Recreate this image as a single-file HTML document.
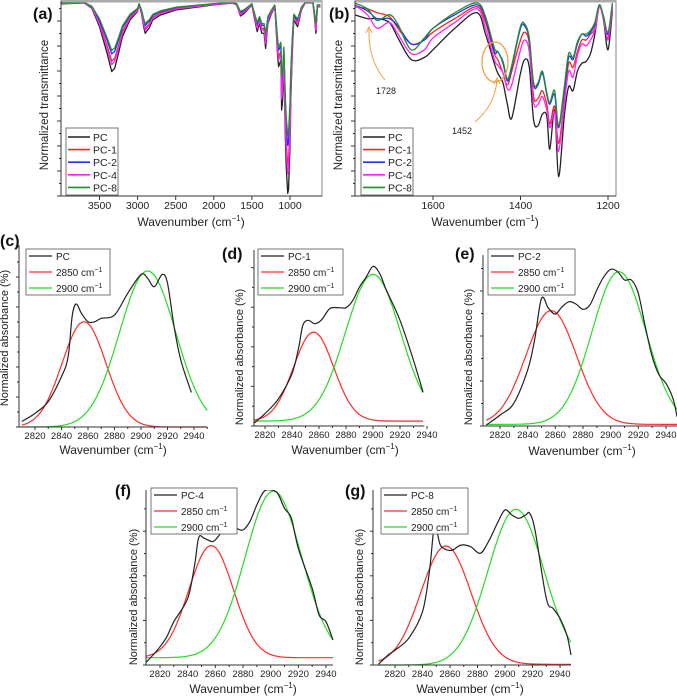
<!DOCTYPE html>
<html><head><meta charset="utf-8">
<style>
html,body{margin:0;padding:0;background:#fff;}
svg{display:block;font-family:"Liberation Sans",Arial,sans-serif;}
</style></head>
<body>
<svg id="fig" width="677" height="698" viewBox="0 0 677 698" xmlns="http://www.w3.org/2000/svg"></svg>
<script>
// ---------- Panel (a) data ----------
const aWavenumbers=[4000,3700,3600,3500,3400,3340,3300,3250,3200,3100,3000,2980,2950,2920,2900,2870,2850,2800,2700,2500,2000,1750,1730,1700,1650,1600,1500,1480,1430,1400,1370,1340,1320,1290,1250,1200,1160,1150,1120,1110,1100,1080,1060,1050,1030,1020,1000,990,970,950,900,850,800,700,680,660,640,600];
const aPC=[98.5,99,96.2,86.8,73.2,63.8,65.5,73.2,81.7,90.3,94.6,98,93.7,86.8,83.4,85.1,86,90.3,92.8,95.4,98,99,98.5,98,92.3,93.7,98,93.7,84.3,88.5,83.4,83.4,75.7,88.5,92.8,97.1,70.6,66.3,69.7,44.1,47.5,66.3,28.7,15.1,1.4,3.1,25.3,49.2,73.2,90.3,86.8,95.4,99,99,92,83.4,97.1,97.1];
const aPC1=[98.8,99.2,96.8,88.8,77.2,69.2,70.6,77.2,84.4,91.8,95.4,98.3,94.6,88.8,85.9,87.3,88.1,91.8,93.9,96.1,98.3,99.1,98.7,98.3,93.5,94.6,98.3,94.6,86.7,90.2,85.9,85.9,79.3,90.2,93.9,97.5,75,71.4,74.2,52.5,55.4,71.4,39.4,27.8,16.2,17.6,36.5,56.8,77.2,91.8,88.8,96.1,99.2,99.2,93.2,85.9,97.5,97.5];
const aPC2=[98.9,99.3,97.2,90.1,79.9,72.9,74.1,79.9,86.3,92.7,96,98.5,95.3,90.1,87.5,88.8,89.5,92.7,94.6,96.6,98.5,99.3,98.9,98.5,94.2,95.3,98.5,95.3,88.2,91.4,87.5,87.5,81.8,91.4,94.6,97.8,78,74.7,77.3,58.1,60.6,74.7,46.5,36.3,26,27.3,44,61.9,79.9,92.7,90.1,96.6,99.3,99.3,94,87.5,97.8,97.8];
const aPC4=[98.7,99.1,96.6,88.1,75.9,67.4,69,75.9,83.5,91.3,95.1,98.2,94.3,88.1,85.1,86.6,87.4,91.3,93.5,95.9,98.2,99.1,98.7,98.2,93.1,94.3,98.2,94.3,85.9,89.7,85.1,85.1,78.1,89.7,93.5,97.4,73.5,69.7,72.7,49.7,52.8,69.7,35.8,23.6,11.3,12.8,32.8,54.3,75.9,91.3,88.1,95.9,99.1,99.1,92.8,85.1,97.4,97.4];
const aPC8=[99,99.3,97.3,90.8,81.2,74.7,75.9,81.2,87.2,93.2,96.2,98.6,95.6,90.8,88.4,89.6,90.2,93.2,95,96.8,98.6,99.3,99,98.6,94.6,95.6,98.6,95.6,89,92,88.4,88.4,83,92,95,98,79.4,76.4,78.8,60.9,63.3,76.4,50.1,40.6,31,32.2,47.7,64.4,81.2,93.2,90.8,96.8,99.3,99.3,94.4,88.4,98,98];
const aTicks=[3500,3000,2500,2000,1500,1000];
// ---------- Panel (b) data ----------
const bWavenumbers=[1780,1750,1728,1700,1680,1650,1620,1600,1550,1500,1480,1460,1452,1440,1430,1420,1400,1390,1380,1370,1360,1350,1340,1333,1322,1313,1300,1290,1280,1270,1260,1250,1240,1230,1220,1210,1200,1190];
const bPC=[93,91,91,89,81,70,71,75,86,94,83,68,63,58,47,40,63,70,66,39,36,42,41,24,44,10,41,56,54,64,68,69,73,83,97,90,75,95];
const bPC1=[97,96,94,92,86,78,80,84,91,97,89,73,70,63,57,64,80,84,78,51,50,54,47,37,46,27,49,68,66,74,80,80,83,86,97,91,81,97];
const bPC2=[98,95,91,91,87,78,80,86,93,98,91,74,74,68,59,66,86,87,80,57,57,63,52,47,52,35,54,71,70,78,83,82,84,88,98,91,83,98];
const bPC4=[98,93,86,89,83,73,75,81,89,96,86,70,67,63,55,57,75,80,74,48,47,51,44,35,43,23,47,64,61,72,78,77,80,85,97,91,80,97];
const bPC8=[99,96,90,93,88,75,81,86,94,99,92,76,74,69,60,67,87,88,81,58,58,64,53,48,54,36,56,73,71,79,83,83,85,89,98,92,84,99];
const bTicks=[1600,1400,1200];
const seriesNames=["PC","PC-1","PC-2","PC-4","PC-8"];
// ---------- Deconvolution panels data ----------
const cWn=[2810,2820,2830,2840,2845,2848,2851,2855,2860,2865,2870,2880,2890,2900,2905,2910,2916,2920,2925,2930,2938];
const cAbs=[3,7.5,14,27.7,38.6,60.6,67.6,62.5,57.8,57.8,59.7,61.5,73.5,83.8,81.7,77.1,83.8,79,55.1,36.8,19];
const dWn=[2810,2820,2830,2840,2845,2848,2852,2857,2862,2868,2875,2880,2885,2890,2895,2900,2905,2910,2920,2930,2937];
const dAbs=[0.4,6.8,15,28.8,43.4,55.3,58.1,56.2,58.4,64.5,65,65,69,76.4,81.9,87.7,83.7,74.5,58.1,36.1,18.7];
const eWn=[2810,2820,2830,2840,2845,2850,2855,2860,2865,2870,2875,2880,2885,2890,2895,2900,2905,2910,2915,2920,2925,2930,2935,2940,2945,2948];
const eAbs=[0.5,6,12.5,30.8,47.3,70.1,64.7,61.5,65.6,68.3,67,64.1,66.5,74.7,82,86.1,84.8,80.2,80.2,72.9,54.6,38.1,28,23.4,15.2,5.1];
const fWn=[2808,2815,2820,2825,2830,2840,2845,2848,2852,2858,2862,2868,2875,2880,2885,2890,2895,2900,2905,2910,2915,2920,2930,2935,2940,2945];
const fAbs=[0,5.5,10,15.6,23.8,36.6,54.9,70,69.6,67.8,70.5,76,75.1,74.2,78.8,87.9,95.2,96.2,94.3,86.1,80.6,64.1,42.1,27.5,23.8,13.7];
const gWn=[2808,2815,2820,2830,2840,2845,2848,2850,2853,2858,2862,2868,2875,2882,2888,2895,2900,2905,2910,2915,2918,2922,2930,2935,2940,2945,2948];
const gAbs=[0.4,5.5,8.2,14.7,29.3,51.3,73.3,75.1,65.9,63.2,63.2,65.9,65,61.4,67.8,78.8,85.2,82.4,80.6,82.4,83.3,73.3,36.6,31.1,25.6,16.5,5.5];
// fit peak parameters [center, height above base, FWHM, base]
const fit2850=[[2857,57.8,39,0],[2856,48.9,35,2.7],[2857,62.5,43,0.9],[2857,61.6,38,4],[2857,65,43,0.4]];
const fit2900=[[2905,85.7,50,0],[2900,80.6,48,2.7],[2906,83.9,46,0.9],[2902,91.6,48,4],[2908,85.5,48,0]];
const smallTicks=[2820,2840,2860,2880,2900,2920,2940];
const sampleNames=["PC","PC-1","PC-2","PC-4","PC-8"];

const NS="http://www.w3.org/2000/svg";
const svg=document.getElementById('fig');
function mk(tag,attrs,parent,name,inter){
  const e=document.createElementNS(NS,tag);
  for(const k in attrs)e.setAttribute(k,attrs[k]);
  
  
  (parent||svg).appendChild(e);return e;
}
function txt(x,y,s,opt,name,parent){
  const o=Object.assign({x:x,y:y,'font-size':11,fill:'#222'},opt||{});
  const t=mk('text',o,parent,name,false);t.textContent=s;return t;
}
function ylab(x,y,s,name,fs){
  const t=mk('text',{x:0,y:0,'font-size':fs||11,fill:'#222','text-anchor':'middle',transform:`translate(${x},${y}) rotate(-90)`},svg,name,false);
  t.textContent=s;
}
function xlabel(x,y,name,fs){
  const t=mk('text',{x:x,y:y,'font-size':fs||12,fill:'#222','text-anchor':'middle'},svg,name,false);
  t.innerHTML='Wavenumber (cm<tspan font-size="8" dy="-5">−1</tspan><tspan dy="5">)</tspan>';
}
function smoothPath(P){
  let d='M'+P[0][0].toFixed(1)+','+P[0][1].toFixed(1);
  for(let i=0;i<P.length-1;i++){
    const p0=P[i-1]||P[i],p1=P[i],p2=P[i+1],p3=P[i+2]||P[i+1];
    const c1=[p1[0]+(p2[0]-p0[0])/6,p1[1]+(p2[1]-p0[1])/6];
    const c2=[p2[0]-(p3[0]-p1[0])/6,p2[1]-(p3[1]-p1[1])/6];
    d+=` C${c1[0].toFixed(1)},${c1[1].toFixed(1)} ${c2[0].toFixed(1)},${c2[1].toFixed(1)} ${p2[0].toFixed(1)},${p2[1].toFixed(1)}`;
  }
  return d;
}
const colors=["#222","#ff2020","#2030ff","#ff20ff","#1f8f2f"];

function bigPanel(p){
  const g=mk('g',{},svg,p.name,false);
  const X=w=>p.x0+(p.w0-w)*p.k;
  const Y=v=>1+(100-v)*1.95;
  const clipId=p.name+'-clip';
  const defs=mk('defs',{},g,'clip-defs',false);
  const cp=mk('clipPath',{id:clipId},defs,'clip-path',false);
  mk('rect',{x:p.l,y:1,width:p.r-p.l,height:195},cp,'clip-rect',false);
  const lines=mk('g',{'clip-path':`url(#${clipId})`},g,'series-group',false);
  p.series.forEach((s,i)=>{
    const P=p.wn.map((w,j)=>[X(w),Y(s[j])]);
    const pl=mk('path',{d:p.smooth?smoothPath(P):'M'+P.map(q=>q[0].toFixed(1)+','+q[1].toFixed(1)).join(' L'),fill:'none',stroke:colors[i],'stroke-width':1.3,'stroke-linejoin':'round'},lines,'series-line',false);
    
  });
  mk('rect',{x:p.l,y:1,width:p.r-p.l,height:195,fill:'none',stroke:'#888','stroke-width':1},g,'plot-frame',false);
  mk('line',{x1:p.l,y1:1,x2:p.r,y2:1,stroke:'#aaa','stroke-width':3},g,'top-border',false);
  mk('line',{x1:p.l,y1:196,x2:p.r,y2:196,stroke:'#333','stroke-width':1},g,'x-axis',false);
  mk('line',{x1:p.l,y1:1,x2:p.l,y2:196,stroke:'#333','stroke-width':1},g,'y-axis',false);
  p.ticks.forEach(t=>{
    mk('line',{x1:X(t),y1:196,x2:X(t),y2:200,stroke:'#333'},g,'x-tick',false);
    txt(X(t),209,String(t),{'text-anchor':'middle','font-size':10.5},'x-tick-label',g);
  });
  for(let y=196;y>3;y-=12.5){
    const major=Math.round((196-y)/12.5)%2===0;
    mk('line',{x1:p.l-(major?4:2),y1:y,x2:p.l,y2:y,stroke:'#333'},g,'y-tick',false);
  }
  const lg=mk('g',{},g,'legend',false);
  mk('rect',{x:p.lx,y:128,width:52,height:67,fill:'#fff',stroke:'#555','stroke-width':0.8},lg,'legend-box',false);
  seriesNames.forEach((n,i)=>{
    const yy=137+i*12.6;
    mk('line',{x1:p.lx+2,y1:yy,x2:p.lx+24,y2:yy,stroke:colors[i],'stroke-width':1.6},lg,'legend-swatch',false);
    txt(p.lx+27,yy+4,n,{'font-size':10.5},'legend-entry',lg);
  });
}
bigPanel({name:'panel-a',wn:aWavenumbers,series:[aPC,aPC1,aPC2,aPC4,aPC8],ticks:aTicks,x0:290,w0:1000,k:0.0762,l:61,r:322,lx:66,smooth:false});
bigPanel({name:'panel-b',wn:bWavenumbers,series:[bPC,bPC1,bPC2,bPC4,bPC8],ticks:bTicks,x0:433,w0:1600,k:0.4375,l:355,r:616,lx:361,smooth:true});
txt(33,19,'(a)',{'font-size':16,'font-weight':'bold',fill:'#111'},'panel-label-a');
txt(329,19,'(b)',{'font-size':16,'font-weight':'bold',fill:'#111'},'panel-label-b');
ylab(48,105,'Normalized transmittance','y-axis-title-a',11.5);
ylab(342,105,'Normalized transmittance','y-axis-title-b',11.5);
xlabel(191,226,'x-axis-title-a');
xlabel(485,226,'x-axis-title-b');
const ann=mk('g',{fill:'none',stroke:'#f5a040','stroke-width':1},svg,'annotations',false);
mk('path',{d:'M385,80 Q368,60 369,29'},ann,'arrow-1728',false);
mk('path',{d:'M366,33 L369,27 L372,33'},ann,'arrowhead-1728',false);
mk('path',{d:'M475,122 Q495,105 497,80'},ann,'arrow-1452',false);
mk('path',{d:'M494,84 L497,78 L500,84'},ann,'arrowhead-1452',false);
mk('ellipse',{cx:495,cy:62,rx:13,ry:20,'stroke-width':1.3},ann,'highlight-ellipse-1452',false);
txt(376,94,'1728',{'font-size':9},'annotation-1728');
txt(452,134,'1452',{'font-size':9},'annotation-1452');

function smallPanel(p,idx){
  const g=mk('g',{},svg,p.name,false);
  const k=(p.x2940-p.x2820)/120;
  const X=w=>p.x2820+(w-2820)*k;
  const Y=v=>p.bottom-v*1.82;
  const top=p.top;
  const clipId=p.name+'-clip';
  const defs=mk('defs',{},g,'clip-defs',false);
  const cp=mk('clipPath',{id:clipId},defs,'clip-path',false);
  mk('rect',{x:p.left,y:top,width:X(p.wmax)-p.left+2,height:p.bottom-top+1},cp,'clip-rect',false);
  const lines=mk('g',{'clip-path':`url(#${clipId})`},g,'curves',false);
  const fits=[[fit2850[idx],'#ff2a2a','fit-2850'],[fit2900[idx],'#22dd22','fit-2900']];
  fits.forEach(([f,c,n])=>{
    const [cen,h,fw,base]=f;
    const pts=[];
    for(let w=p.wmin;w<=p.fitMax;w+=1){pts.push(X(w).toFixed(1)+','+Y(base+h*Math.exp(-4*Math.LN2*(w-cen)*(w-cen)/(fw*fw))).toFixed(1));}
    mk('polyline',{points:pts.join(' '),fill:'none',stroke:c,'stroke-width':1.2},lines,n+'-curve',false);
  });
  const P=p.wn.map((w,j)=>[X(w),Y(p.abs[j])]);
  mk('path',{d:smoothPath(P),fill:'none',stroke:'#222','stroke-width':1.2,'stroke-linejoin':'round'},lines,'spectrum-curve',false);
  mk('line',{x1:p.left,y1:p.bottom,x2:X(p.wmax),y2:p.bottom,stroke:'#333'},g,'x-axis',false);
  mk('line',{x1:p.left,y1:top,x2:p.left,y2:p.bottom,stroke:'#333'},g,'y-axis',false);
  smallTicks.forEach(t=>{
    mk('line',{x1:X(t),y1:p.bottom,x2:X(t),y2:p.bottom+3,stroke:'#333'},g,'x-tick',false);
    txt(X(t),p.bottom+12,String(t),{'text-anchor':'middle','font-size':9.5},'x-tick-label',g);
  });
  for(let t=2830;t<=p.wmax;t+=20){mk('line',{x1:X(t),y1:p.bottom,x2:X(t),y2:p.bottom+2,stroke:'#333'},g,'x-minor-tick',false);}
  for(let y=p.bottom,i=0;y>top;y-=p.ts,i++){
    mk('line',{x1:p.left-(i%2===0?3:2),y1:y,x2:p.left,y2:y,stroke:'#333'},g,'y-tick',false);
  }
  const lg=mk('g',{},g,'legend',false);
  mk('rect',{x:p.lx,y:p.ly,width:p.lw,height:46,fill:'#fff',stroke:'#555','stroke-width':0.8},lg,'legend-box',false);
  const labs=[[sampleNames[idx],'#222'],['2850 cm','#ff2a2a'],['2900 cm','#22dd22']];
  labs.forEach(([s,c],i)=>{
    const yy=p.ly+7+i*16;
    mk('line',{x1:p.lx+3,y1:yy,x2:p.lx+26,y2:yy,stroke:c,'stroke-width':1.3},lg,'legend-swatch',false);
    const t=txt(p.lx+30,yy+4,s,{'font-size':10},'legend-entry',lg);
    if(i>0){const sp=document.createElementNS(NS,'tspan');sp.setAttribute('font-size','7');sp.setAttribute('dy','-4');sp.textContent='−1';t.appendChild(sp);}
  });
  txt(p.plx,p.ply,p.label,{'font-size':16,'font-weight':'bold',fill:'#111'},'panel-label-'+p.label[1]);
  ylab(p.yx,p.yy,'Normalized absorbance (%)','y-axis-title',11);
  xlabel(p.xlx,p.xly,'x-axis-title',12);
}
smallPanel({name:'panel-c',wn:cWn,abs:cAbs,x2820:35,x2940:194,left:19,bottom:427,top:245,wmin:2810,wmax:2950,fitMax:2950,ts:15,lx:26,ly:249,lw:84,label:'(c)',plx:0,ply:246,yx:8,yy:338,xlx:113,xly:454},0);
smallPanel({name:'panel-d',wn:dWn,abs:dAbs,x2820:265,x2940:427,left:254,bottom:426,top:250,wmin:2810,wmax:2938,fitMax:2937,ts:19.8,lx:258,ly:249,lw:85,label:'(d)',plx:222,ply:259,yx:243,yy:357,xlx:345,xly:454},1);
smallPanel({name:'panel-e',wn:eWn,abs:eAbs,x2820:500,x2940:666,left:483,bottom:426,top:255,wmin:2810,wmax:2950,fitMax:2950,ts:22.5,lx:488,ly:249,lw:87,label:'(e)',plx:455,ply:259,yx:472,yy:357,xlx:582,xly:455},2);
smallPanel({name:'panel-f',wn:fWn,abs:fAbs,x2820:160,x2940:326,left:146,bottom:665,top:490,wmin:2808,wmax:2945,fitMax:2945,ts:22.3,lx:151,ly:488,lw:86,label:'(f)',plx:115,ply:496,yx:137,yy:597,xlx:243,xly:693},3);
smallPanel({name:'panel-g',wn:gWn,abs:gAbs,x2820:395,x2940:560,left:373,bottom:665,top:490,wmin:2808,wmax:2948,fitMax:2948,ts:22.3,lx:381,ly:488,lw:87,label:'(g)',plx:345,ply:496,yx:363,yy:597,xlx:470,xly:693},4);
</script>
</body></html>
